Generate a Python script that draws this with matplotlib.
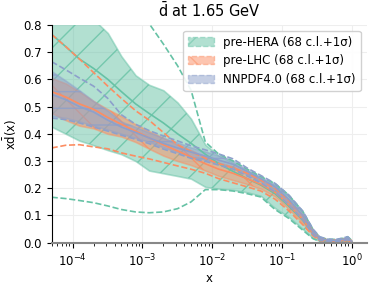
import matplotlib
matplotlib.use("Agg")
import matplotlib.pyplot as plt
from matplotlib.patches import Patch

# x grid
x = [5e-5, 8e-5, 1.25e-4, 2e-4, 3.2e-4, 5e-4, 8e-4, 1.25e-3, 2e-3, 3.2e-3,
     5e-3, 8e-3, 1.25e-2, 2e-2, 3.2e-2, 5e-2, 8e-2, 0.125, 0.2, 0.28,
     0.35, 0.45, 0.6, 0.75, 0.88, 1.0]

# pre-HERA
hera_cv = [0.765, 0.72, 0.675, 0.64, 0.60, 0.555, 0.51, 0.475, 0.44, 0.40,
           0.365, 0.325, 0.29, 0.262, 0.235, 0.212, 0.18, 0.135, 0.082, 0.035,
           0.014, 0.006, 0.006, 0.009, 0.013, 0.004]
hera_up68 = [1.0, 0.93, 0.87, 0.82, 0.77, 0.685, 0.615, 0.58, 0.56, 0.515,
             0.455, 0.36, 0.32, 0.295, 0.265, 0.238, 0.212, 0.172, 0.11, 0.045,
             0.018, 0.012, 0.011, 0.015, 0.02, 0.008]
hera_dn68 = [0.426, 0.40, 0.375, 0.358, 0.34, 0.325, 0.30, 0.265, 0.255, 0.245,
             0.235, 0.205, 0.198, 0.194, 0.185, 0.172, 0.127, 0.095, 0.05, 0.017,
             0.006, 0.002, 0.002, 0.004, 0.008, 0.002]
hera_up1s = [1.2, 1.15, 1.1, 1.04, 0.98, 0.92, 0.86, 0.805, 0.73, 0.65,
             0.56, 0.37, 0.325, 0.30, 0.27, 0.243, 0.217, 0.176, 0.115, 0.048,
             0.02, 0.013, 0.012, 0.016, 0.022, 0.009]
hera_dn1s = [0.167, 0.162, 0.155, 0.147, 0.135, 0.122, 0.113, 0.11, 0.113, 0.125,
             0.15, 0.195, 0.195, 0.19, 0.18, 0.168, 0.122, 0.09, 0.046, 0.015,
             0.005, 0.001, 0.001, 0.003, 0.006, 0.001]

# pre-LHC
lhc_cv = [0.555, 0.535, 0.51, 0.49, 0.46, 0.435, 0.41, 0.385, 0.36, 0.337,
          0.315, 0.29, 0.27, 0.255, 0.235, 0.215, 0.185, 0.14, 0.085, 0.035,
          0.014, 0.007, 0.006, 0.009, 0.013, 0.004]
lhc_up68 = [0.605, 0.585, 0.555, 0.52, 0.49, 0.465, 0.435, 0.41, 0.385, 0.36,
            0.34, 0.315, 0.295, 0.28, 0.258, 0.232, 0.2, 0.155, 0.098, 0.04,
            0.016, 0.009, 0.008, 0.011, 0.015, 0.006]
lhc_dn68 = [0.476, 0.45, 0.43, 0.42, 0.40, 0.39, 0.37, 0.345, 0.32, 0.30,
            0.285, 0.265, 0.245, 0.23, 0.215, 0.198, 0.17, 0.125, 0.072, 0.028,
            0.01, 0.004, 0.003, 0.006, 0.01, 0.002]
lhc_up1s = [0.765, 0.72, 0.675, 0.625, 0.575, 0.53, 0.485, 0.45, 0.405, 0.36,
            0.335, 0.31, 0.29, 0.275, 0.255, 0.23, 0.2, 0.155, 0.1, 0.042,
            0.017, 0.01, 0.009, 0.012, 0.016, 0.007]
lhc_dn1s = [0.348, 0.358, 0.36, 0.352, 0.345, 0.33, 0.318, 0.308, 0.295, 0.282,
            0.27, 0.255, 0.235, 0.22, 0.205, 0.19, 0.16, 0.118, 0.066, 0.025,
            0.008, 0.003, 0.002, 0.005, 0.008, 0.001]

# NNPDF4.0
nn_cv = [0.545, 0.525, 0.50, 0.48, 0.45, 0.425, 0.405, 0.385, 0.365, 0.348,
         0.333, 0.318, 0.303, 0.288, 0.262, 0.235, 0.205, 0.16, 0.1, 0.04,
         0.016, 0.009, 0.008, 0.012, 0.016, 0.005]
nn_up68 = [0.63, 0.595, 0.56, 0.52, 0.485, 0.445, 0.425, 0.405, 0.385, 0.368,
           0.35, 0.335, 0.32, 0.302, 0.268, 0.242, 0.213, 0.172, 0.112, 0.048,
           0.02, 0.012, 0.011, 0.016, 0.021, 0.008]
nn_dn68 = [0.465, 0.458, 0.445, 0.43, 0.415, 0.40, 0.385, 0.37, 0.35, 0.333,
           0.315, 0.305, 0.29, 0.275, 0.25, 0.225, 0.192, 0.146, 0.088, 0.032,
           0.012, 0.004, 0.004, 0.008, 0.012, 0.003]
nn_up1s = [0.665, 0.635, 0.605, 0.575, 0.53, 0.47, 0.435, 0.412, 0.392, 0.374,
           0.356, 0.341, 0.326, 0.308, 0.274, 0.247, 0.218, 0.176, 0.116, 0.05,
           0.022, 0.013, 0.012, 0.017, 0.022, 0.009]
nn_dn1s = [0.458, 0.452, 0.44, 0.425, 0.41, 0.395, 0.38, 0.364, 0.344, 0.327,
           0.31, 0.299, 0.285, 0.27, 0.245, 0.22, 0.186, 0.14, 0.084, 0.03,
           0.01, 0.003, 0.003, 0.007, 0.011, 0.002]

labels = ["pre-HERA (68 c.l.+1σ)", "pre-LHC (68 c.l.+1σ)", "NNPDF4.0 (68 c.l.+1σ)"]
colors = ["#66c2a5", "#fc8d62", "#8da0cb"]
hatches = ["/", "\\", "-"]

sets = [
    (hera_cv, hera_up68, hera_dn68, hera_up1s, hera_dn1s),
    (lhc_cv, lhc_up68, lhc_dn68, lhc_up1s, lhc_dn1s),
    (nn_cv, nn_up68, nn_dn68, nn_up1s, nn_dn1s),
]

fig = plt.figure(figsize=(3.74, 2.85), dpi=100)
ax = fig.add_axes([0.138, 0.1484, 0.842, 0.7642])

handles = []
for (cv, up68, dn68, up1s, dn1s), c, h, lab in zip(sets, colors, hatches, labels):
    ax.fill_between(x, dn68, up68, facecolor=c, alpha=0.5, edgecolor=c,
                    linewidth=1.2, zorder=1)
    ax.fill_between(x, dn68, up68, facecolor="none", alpha=0.8, edgecolor=c,
                    hatch=h, linewidth=0, zorder=1)
    ax.plot(x, cv, color=c, lw=1.2, zorder=2)
    ax.plot(x, up1s, color=c, lw=1.2, ls="--", zorder=2)
    ax.plot(x, dn1s, color=c, lw=1.2, ls="--", zorder=2)
    handles.append(Patch(facecolor=c, alpha=0.5, edgecolor=c, hatch=h,
                         linestyle="--", linewidth=1.0, label=lab))

ax.set_xscale("log")
ax.set_xlim(5e-5, 1.64)
ax.set_ylim(0, 0.8)
ax.set_yticks([0.0, 0.1, 0.2, 0.3, 0.4, 0.5, 0.6, 0.7, 0.8])
ax.tick_params(labelsize=8.5)
ax.grid(True, color="#eeeeee", lw=0.8)
ax.set_axisbelow(True)
for s in ["top", "right"]:
    ax.spines[s].set_visible(False)
ax.spines["bottom"].set_color("#888888")
ax.spines["bottom"].set_linewidth(1.5)

ax.set_xlabel("x", fontsize=8.5, labelpad=2)
ax.set_ylabel(r"x$\bar{\mathrm{d}}$(x)", fontsize=8.5, labelpad=3)
ax.set_title(r"$\bar{\mathrm{d}}$ at 1.65 GeV", fontsize=10.5)

ax.legend(handles=handles, loc="upper right", fontsize=8.5, framealpha=0.9,
          handlelength=2.2, borderaxespad=0.5)

fig.savefig("out.png", dpi=100)
